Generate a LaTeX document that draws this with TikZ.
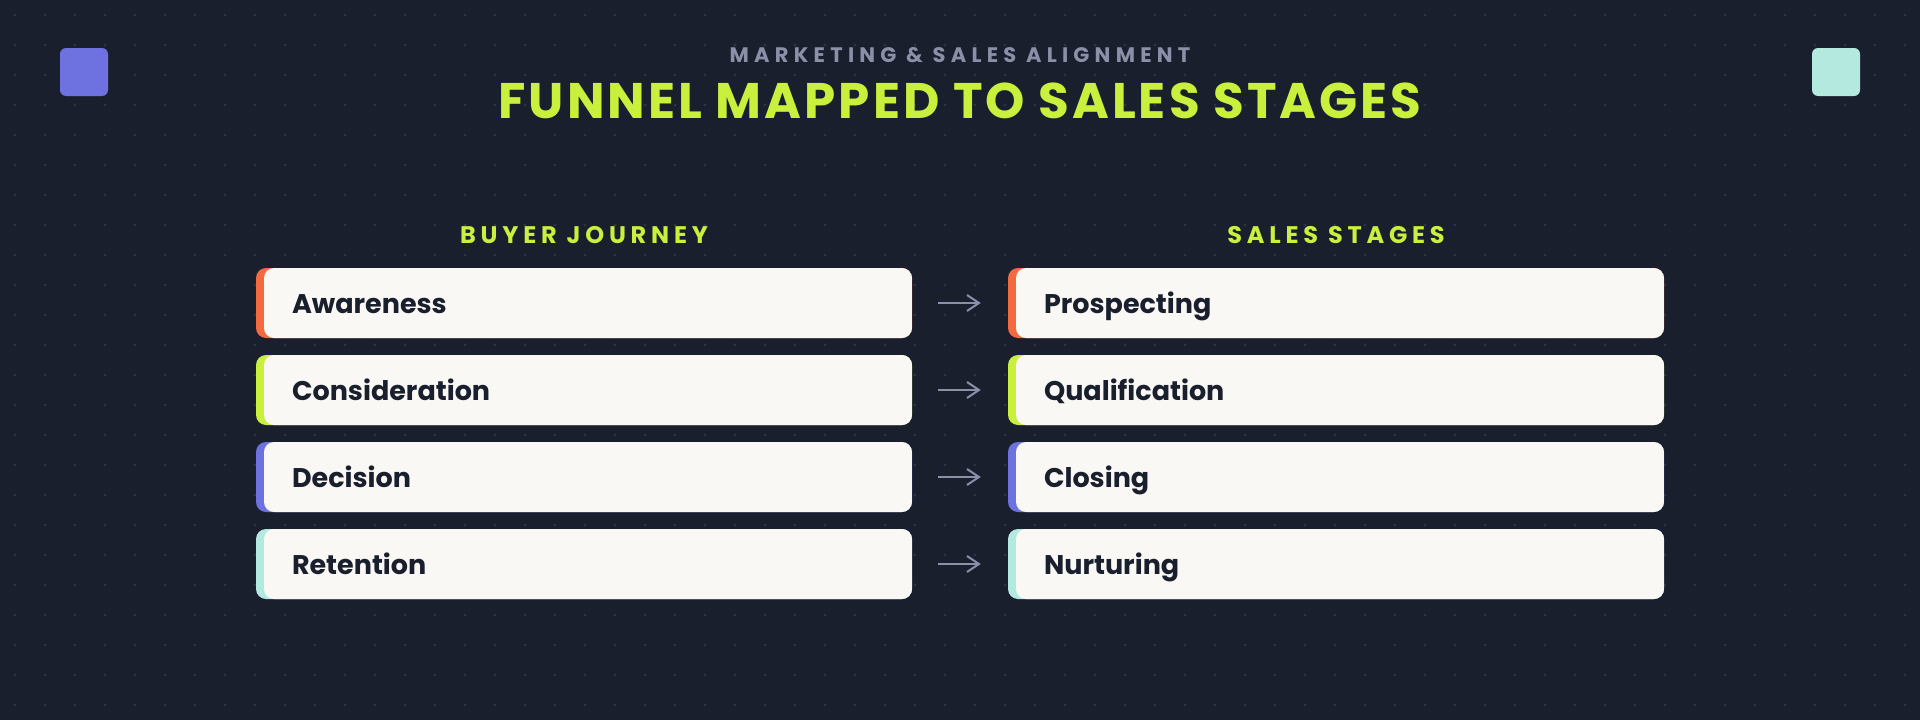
\documentclass[tikz,border=0pt]{standalone}
\usepackage{fontspec}
\setmainfont{Poppins}
\usetikzlibrary{arrows.meta}
\definecolor{bgc}{HTML}{1A1F2E}
\definecolor{dotc}{HTML}{2C3346}
\definecolor{greyc}{HTML}{8B90A8}
\definecolor{limec}{HTML}{C8F03C}
\definecolor{boxc}{HTML}{FAF8F4}
\definecolor{inkc}{HTML}{1A1F2E}
\definecolor{orangec}{HTML}{F26A3D}
\definecolor{purplec}{HTML}{6E72E0}
\definecolor{tealc}{HTML}{B4E9E0}
\begin{document}
\begin{tikzpicture}[x=1pt,y=-1pt,
    deco/.style={minimum size=48pt,inner sep=0pt,rounded corners=6pt,fill=#1},
    kicker/.style={anchor=base,text=greyc,font=\bfseries\fontsize{21}{25}\selectfont\addfontfeature{LetterSpace=25}},
    title/.style={anchor=base,text=limec,font=\bfseries\fontsize{50}{60}\selectfont\addfontfeature{LetterSpace=6}},
    colhead/.style={anchor=base,text=limec,font=\bfseries\fontsize{24}{28}\selectfont\addfontfeature{LetterSpace=20}},
    stage/.style={minimum width=656pt,minimum height=70pt,text width=584pt,
      inner xsep=36pt,inner ysep=0pt,align=left,text height=20pt,text depth=0pt,
      rounded corners=10pt,fill=#1,text=inkc,font=\bfseries\fontsize{27}{32}\selectfont,
      path picture={\fill[boxc,rounded corners=10pt]
        ([xshift=8pt]path picture bounding box.south west) rectangle
        (path picture bounding box.north east);}},
    link/.style={draw=greyc,line width=2pt,-{Straight Barb[length=12pt,width=16pt]},
      shorten <=26pt,shorten >=27pt}]
  \useasboundingbox (0,0) rectangle (1920,720);
  \fill[bgc] (0,0) rectangle (1920,720);
  \foreach \i in {0,...,63}
    \foreach \j in {0,...,23}
      \fill[dotc] (15+30*\i,15+30*\j) circle (1.6);

  \node[deco=purplec] (sqL) at (84,72) {};
  \node[deco=tealc] (sqR) at (1836,72) {};
  \node[kicker] (kick) at (960,62) {MARKETING \& SALES ALIGNMENT};
  \node[title] (head) at (960,118) {FUNNEL MAPPED TO SALES STAGES};

  \node[colhead] (buyer) at (584,243) {BUYER JOURNEY};
  \node[colhead] (sales) at (1336,243) {SALES STAGES};

  \node[stage=orangec] (aw) at (584,303) {Awareness};
  \node[stage=limec] (co) at (584,390) {Consideration};
  \node[stage=purplec] (de) at (584,477) {Decision};
  \node[stage=tealc] (re) at (584,564) {Retention};

  \node[stage=orangec] (pr) at (1336,303) {Prospecting};
  \node[stage=limec] (qu) at (1336,390) {Qualification};
  \node[stage=purplec] (cl) at (1336,477) {Closing};
  \node[stage=tealc] (nu) at (1336,564) {Nurturing};

  \begin{scope}[link]
    \draw (aw) -- (pr);
    \draw (co) -- (qu);
    \draw (de) -- (cl);
    \draw (re) -- (nu);
  \end{scope}
\end{tikzpicture}
\end{document}
